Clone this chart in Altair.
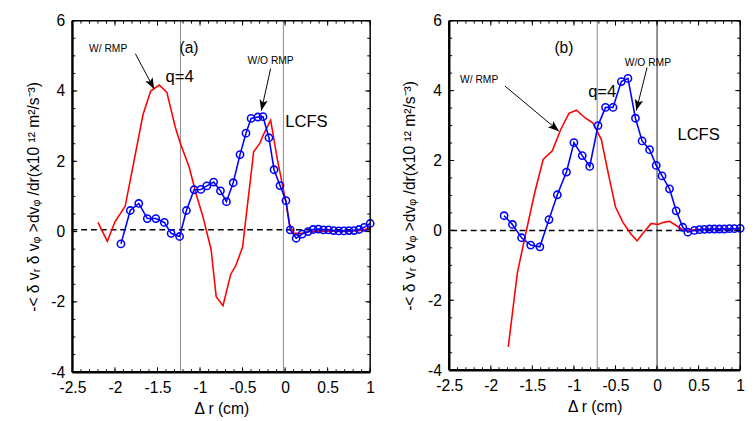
import math
import altair as alt
import pandas as pd

# ---------------- data ----------------
# Panel (a)
a_red_x = [-2.20, -2.09, -2.00, -1.88, -1.67, -1.58, -1.48, -1.39, -1.29, -1.23, -1.13, -1.04, -0.97,
           -0.87, -0.81, -0.73, -0.64, -0.58, -0.50, -0.37, -0.30, -0.26, -0.17, -0.09, 0.01, 0.05,
           0.10, 0.20, 0.30, 0.50, 0.70, 0.90, 1.00]
a_red_y = [0.26, -0.28, 0.28, 0.72, 3.33, 4.00, 4.17, 3.96, 2.96, 2.50, 1.85, 1.02, 0.46,
           -0.51, -1.85, -2.11, -1.22, -0.97, -0.44, 2.27, 2.50, 2.73, 3.17, 2.04, 0.83, 0.23,
           -0.05, -0.05, 0.00, 0.02, 0.00, 0.03, 0.10]
a_blue_x = [-1.93, -1.82, -1.72, -1.62, -1.52, -1.42, -1.34, -1.24, -1.16, -1.07, -0.99, -0.92, -0.84,
            -0.76, -0.69, -0.61, -0.53, -0.46, -0.40, -0.32, -0.26, -0.19, -0.13, -0.06, 0.01, 0.06,
            0.13, 0.20, 0.27, 0.33, 0.39, 0.45, 0.51, 0.57, 0.63, 0.69, 0.75, 0.81, 0.87, 0.93, 1.00]
a_blue_y = [-0.35, 0.60, 0.80, 0.37, 0.37, 0.26, -0.05, -0.14, 0.60, 1.19, 1.20, 1.30, 1.41,
            1.16, 0.85, 1.39, 2.19, 2.80, 3.22, 3.26, 3.27, 2.67, 1.76, 1.31, 0.88, 0.05,
            -0.19, -0.07, 0.00, 0.06, 0.07, 0.05, 0.05, 0.03, 0.02, 0.02, 0.03, 0.03, 0.06, 0.12, 0.23]

# Panel (b)
b_red_x = [-1.79, -1.68, -1.58, -1.47, -1.37, -1.26, -1.16, -1.06, -0.97, -0.86, -0.77, -0.67, -0.59,
           -0.50, -0.41, -0.32, -0.24, -0.16, -0.07, 0.01, 0.08, 0.15, 0.23, 0.32, 0.45, 0.60, 0.80, 1.00]
b_red_y = [-3.33, -1.21, -0.09, 1.10, 2.03, 2.28, 2.88, 3.35, 3.44, 3.21, 3.07, 2.60, 1.67,
           0.67, 0.23, -0.09, -0.30, -0.05, 0.20, 0.17, 0.23, 0.26, 0.14, 0.00, 0.02, 0.03, 0.04, 0.05]
b_blue_x = [-1.84, -1.74, -1.63, -1.52, -1.41, -1.30, -1.20, -1.09, -1.00, -0.90, -0.81, -0.71, -0.62,
            -0.53, -0.43, -0.35, -0.26, -0.18, -0.09, -0.01, 0.06, 0.15, 0.23, 0.31, 0.37, 0.45,
            0.51, 0.57, 0.63, 0.69, 0.75, 0.81, 0.87, 0.93, 1.00]
b_blue_y = [0.42, 0.17, -0.21, -0.42, -0.47, 0.31, 1.02, 1.67, 2.51, 2.14, 1.83, 3.00, 3.52,
            3.52, 4.26, 4.35, 3.21, 2.56, 2.31, 1.86, 1.56, 1.19, 0.56, 0.09, -0.05, 0.00,
            0.02, 0.03, 0.04, 0.04, 0.04, 0.04, 0.05, 0.05, 0.06]

# reference lines
a_vlines = [-1.23, -0.02]
b_vlines = [-0.72, 0.0]
a_zero = 0.05
b_zero = 0.0

x_ticks = [-2.5, -2, -1.5, -1, -0.5, 0, 0.5, 1]
y_ticks = [-4, -2, 0, 2, 4, 6]
x_minor = [round(-2.5 + 0.1 * i, 2) for i in range(36)]
y_minor = [round(-4 + 0.5 * i, 2) for i in range(21)]
X_DOM = [-2.5, 1]
Y_DOM = [-4, 6]

# annotations: text, x, y, size
a_texts = [("(a)", -1.13, 5.22, 16), ("W/ RMP", -2.08, 5.20, 10.5), ("q=4", -1.24, 4.39, 17),
           ("W/O RMP", -0.17, 4.86, 10.5), ("LCFS", 0.25, 3.11, 17)]
b_texts = [("(b)", -1.12, 5.22, 16), ("W/ RMP", -2.14, 4.30, 10.5), ("q=4", -0.66, 3.96, 17),
           ("W/O RMP", -0.11, 4.80, 10.5), ("LCFS", 0.50, 2.73, 17)]
# arrows: x, y (start) -> x2, y2 (tip)
a_arrows = [(-1.76, 5.06, -1.54, 4.06), (-0.17, 4.64, -0.28, 3.44)]
b_arrows = [(-1.83, 4.13, -1.18, 2.84), (-0.12, 4.66, -0.25, 3.43)]

Y_TITLE = "-< δ vᵣ δ vᵩ >dvᵩ /dr(x10 ¹² m²/s⁻³)"
X_TITLE = "Δ r (cm)"
FONT = "Liberation Sans"
ARROW_PATH = "M0,0L0.42,1.1L0,0.85L-0.42,1.1Z"


def panel(red_x, red_y, blue_x, blue_y, vlines, vcolors, zero, texts, arrows, w, h):
    xs = alt.Scale(domain=X_DOM, nice=False, zero=False)
    ys = alt.Scale(domain=Y_DOM, nice=False, zero=False)
    xax = alt.Axis(values=x_ticks, title=X_TITLE, labelExpr="datum.value + ''", labelFlush=False,
                   domain=False, ticks=False, labelPadding=8, titlePadding=5)
    yax = alt.Axis(values=y_ticks, title=Y_TITLE, labelExpr="datum.value + ''", labelFlush=False,
                   domain=False, ticks=False, labelPadding=8, titlePadding=10)
    base_x = alt.X("x:Q", scale=xs, axis=xax)
    base_y = alt.Y("y:Q", scale=ys, axis=yax)

    px_x = w / (X_DOM[1] - X_DOM[0])   # pixels per data unit
    px_y = h / (Y_DOM[1] - Y_DOM[0])

    red = pd.DataFrame({"x": red_x, "y": red_y})
    blue = pd.DataFrame({"x": blue_x, "y": blue_y})
    vl = pd.DataFrame({"x": vlines, "c": vcolors})
    tx = pd.DataFrame(texts, columns=["t", "x", "y", "s"])
    ar = pd.DataFrame(arrows, columns=["x", "y", "x2", "y2"])
    ar["ang"] = [
        math.degrees(math.atan2((r.x2 - r.x) * px_x, (r.y2 - r.y) * px_y)) % 360
        for r in ar.itertuples()
    ]

    # plot box as line segments (id groups the two ends of a segment)
    segs = []
    x0, x1 = X_DOM
    y0, y1 = Y_DOM
    box_edges = [((x0, y0), (x0, y1), 2.5), ((x0, y0), (x1, y0), 2.5),
                 ((x1, y0), (x1, y1), 1.5), ((x0, y1), (x1, y1), 1.5)]

    def add_seg(p, q, sw):
        i = len(segs) // 2
        segs.append({"id": i, "o": 0, "x": p[0], "y": p[1], "sw": sw})
        segs.append({"id": i, "o": 1, "x": q[0], "y": q[1], "sw": sw})

    for p, q, sw in box_edges:
        add_seg(p, q, sw)
    for vals, lp in ((x_minor, 3), (x_ticks, 5)):
        L = lp / px_y
        for v in vals:
            add_seg((v, y0), (v, y0 + L), 1)
            add_seg((v, y1), (v, y1 - L), 1)
    for vals, lp in ((y_minor, 3), (y_ticks, 5)):
        L = lp / px_x
        for v in vals:
            add_seg((x0, v), (x0 + L, v), 1)
            add_seg((x1, v), (x1 - L, v), 1)
    sg = pd.DataFrame(segs)
    frame = alt.Chart(sg).mark_line(color="#000000").encode(
        x=base_x, y=base_y, detail="id:N", order="o:Q",
        strokeWidth=alt.StrokeWidth("sw:Q", scale=None))

    vrule = alt.Chart(vl).mark_rule(strokeWidth=1).encode(
        x=base_x, color=alt.Color("c:N", scale=None))
    hrule = alt.Chart(pd.DataFrame({"y": [zero]})).mark_rule(
        color="black", strokeDash=[6, 4], strokeWidth=1.5).encode(y=base_y)
    red_line = alt.Chart(red).mark_line(color="#ff0000", strokeWidth=1.6).encode(x=base_x, y=base_y)
    blue_line = alt.Chart(blue).mark_line(color="#0000ff", strokeWidth=1.6).encode(x=base_x, y=base_y)
    blue_pts = alt.Chart(blue).mark_point(shape="circle", color="#0000ff", strokeWidth=1.6,
                                          size=55, filled=False, opacity=1).encode(x=base_x, y=base_y)
    labels = alt.Chart(tx).mark_text(font=FONT, color="black").encode(
        x=base_x, y=base_y, text="t:N", size=alt.Size("s:Q", scale=None))
    shafts = alt.Chart(ar).mark_rule(color="black", strokeWidth=1).encode(
        x=base_x, y=base_y, x2="x2:Q", y2="y2:Q")
    heads = alt.Chart(ar).mark_point(shape=ARROW_PATH, filled=True, color="black", size=420,
                                     opacity=1).encode(
        x=alt.X("x2:Q", scale=xs, axis=xax), y=alt.Y("y2:Q", scale=ys, axis=yax),
        angle=alt.Angle("ang:Q", scale=None))

    layers = [vrule, hrule, red_line, blue_line, blue_pts, shafts, heads, labels, frame]
    return alt.layer(*layers).properties(width=w, height=h)


pa = panel(a_red_x, a_red_y, a_blue_x, a_blue_y, a_vlines, ["#888888", "#888888"], a_zero,
           a_texts, a_arrows, 305, 360)
pb = panel(b_red_x, b_red_y, b_blue_x, b_blue_y, b_vlines, ["#888888", "#222222"], b_zero,
           b_texts, b_arrows, 298, 358)

chart = alt.hconcat(pa, pb, spacing=25).configure(
    padding={"left": 17, "top": 0, "right": 0, "bottom": 0},
    background="white",
).configure_view(stroke=None).configure_axis(
    grid=False, labelFont=FONT, labelFontSize=16, labelColor="black",
    titleFont=FONT, titleFontSize=16, titleFontWeight="normal", titleColor="black",
)

chart.save("out.html", embed_options={"renderer": "svg", "actions": False})
